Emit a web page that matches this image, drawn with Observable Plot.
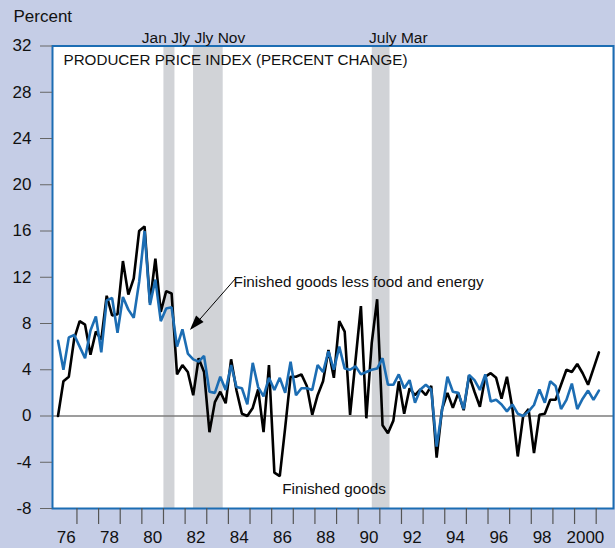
<!DOCTYPE html>
<html>
<head>
<meta charset="utf-8">
<script src="https://cdn.jsdelivr.net/npm/d3@7"></script>
<script src="https://cdn.jsdelivr.net/npm/@observablehq/plot@0.6"></script>
<style>
  html, body { margin: 0; padding: 0; background: #c5cde6; }
  #chart { width: 615px; height: 548px; }
</style>
</head>
<body>
<div id="chart"></div>
<script>
// Quarterly data, 1976 Q1 .. 2001 Q1 (annualized percent change)
const firstYear = 1976;
const finishedGoods = [
  0.0, 3.0, 3.4, 6.7, 8.2, 7.9, 5.3, 7.3, 6.6, 10.4,
  8.7, 8.8, 13.4, 10.5, 11.9, 16.0, 16.4, 9.8, 13.6, 9.0,
  10.8, 10.6, 3.6, 4.4, 3.8, 1.8, 5.0, 3.8, -1.4, 1.2,
  2.1, 1.1, 4.9, 2.2, 0.2, 0.0, 0.7, 2.3, -1.4, 4.4,
  -4.9, -5.2, -1.0, 3.4, 3.4, 3.6, 2.6, 0.1, 1.8, 3.0,
  5.7, 3.3, 8.2, 7.3, 0.1, 4.8, 9.5, -0.2, 6.3, 10.1,
  -0.8, -1.5, -0.4, 3.0, 0.2, 2.4, 1.8, 2.3, 1.8, 2.6,
  -3.6, 0.6, 2.0, 0.7, 2.0, 0.5, 3.5, 2.1, 0.8, 3.4,
  3.7, 3.3, 1.5, 3.4, 0.7, -3.5, 0.0, 0.6, -3.2, 0.1,
  0.2, 1.4, 1.4, 2.7, 4.0, 3.8, 4.5, 3.7, 2.7, 4.1,
  5.5
];
const lessFoodEnergy = [
  6.5, 4.0, 6.8, 7.0, 6.0, 5.0, 7.4, 8.6, 5.5, 10.0,
  10.2, 7.2, 10.3, 9.2, 8.5, 11.6, 16.0, 9.6, 11.8, 8.2,
  9.3, 9.4, 6.0, 7.5, 5.4, 4.9, 4.7, 5.2, 2.1, 2.0,
  3.4, 2.25, 4.4, 2.5, 2.4, 1.0, 4.6, 2.5, 1.7, 3.3,
  2.25, 3.3, 2.0, 4.7, 1.8, 2.4, 2.4, 2.25, 4.4, 3.8,
  5.6, 4.0, 6.0, 4.1, 4.0, 4.3, 3.6, 3.8, 4.0, 4.1,
  5.0, 2.7, 2.7, 3.6, 2.4, 3.1, 1.15, 2.3, 2.7, 2.3,
  -2.65, 0.5, 3.4, 2.1, 2.0, 0.6, 3.55, 3.1, 2.25, 3.6,
  1.25, 1.4, 1.0, 0.4, 1.0, 0.2, 0.0, 0.4, 0.95, 2.3,
  1.15, 3.0, 2.6, 0.6, 1.4, 2.8, 0.6, 1.5, 2.2, 1.4,
  2.2
];
// Shaded periods as they appear on the chart (decimal years)
const shadeStart = [1981.02, 1982.39, 1990.65];
const shadeEnd   = [1981.53, 1983.76, 1991.47];
const shadeLabelDates = [1980.0, 1990.5];
const shadeLabels = ["Jan Jly Jly Nov", "July Mar"];
const yTicks = [-8, -4, 0, 4, 8, 12, 16, 20, 24, 28, 32];
const yearTicks = d3.range(1977, 2002);
const labelYears = [1976, 1978, 1980, 1982, 1984, 1986, 1988, 1990, 1992, 1994, 1996, 1998, 2000];
const labelTexts = ["76", "78", "80", "82", "84", "86", "88", "90", "92", "94", "96", "98", "2000"];

const quarterDate = i => firstYear + (i + 0.5) / 4;
const black = finishedGoods.map((v, i) => ({date: quarterDate(i), value: v}));
const blue = lessFoodEnergy.map((v, i) => ({date: quarterDate(i), value: v}));
const shades = shadeStart.map((s, i) => ({start: s, end: shadeEnd[i]}));
const shadeText = shadeLabels.map((t, i) => ({date: shadeLabelDates[i], text: t}));
const labelPos = labelYears.map(y => y + 0.5);
const labelMap = new Map(labelPos.map((p, i) => [p, labelTexts[i]]));

const arrowHead = {
  draw(context) {
    context.moveTo(0, 0);
    context.lineTo(-5, 15);
    context.lineTo(5, 15);
    context.closePath();
  }
};

const FONT = "'Liberation Sans', Arial, Helvetica, sans-serif";
const BLUE = "#1c6db3";

const chart = Plot.plot({
  width: 615,
  height: 548,
  marginLeft: 52,
  marginRight: 2,
  marginTop: 45.5,
  marginBottom: 40,
  style: {fontFamily: FONT, fontSize: "17px", background: "#c5cde6", color: "#111"},
  x: {domain: [1975.87, 2001.8]},
  y: {domain: [-8, 32]},
  marks: [
    Plot.frame({fill: "white"}),
    Plot.rect(shades, {x1: "start", x2: "end", y1: -8, y2: 32, fill: "#d1d3d7"}),
    Plot.ruleY([0], {stroke: "#7d7d7d", strokeWidth: 1.5}),
    Plot.lineY(black, {x: "date", y: "value", stroke: "#000", strokeWidth: 2.6, strokeLinejoin: "miter"}),
    Plot.lineY(blue, {x: "date", y: "value", stroke: BLUE, strokeWidth: 2.6, strokeLinejoin: "miter"}),
    Plot.frame({stroke: BLUE, strokeWidth: 2}),
    Plot.axisY({ticks: yTicks, tickSize: 12, tickPadding: 9, tickFormat: d => String(d), fontSize: 17, stroke: "#666", label: null}),
    Plot.axisX({ticks: yearTicks, tickSize: 16, tickFormat: () => "", stroke: "#555", strokeWidth: 1.2, label: null}),
    Plot.axisX({ticks: labelPos, tickSize: 0, tickPadding: 22, tickFormat: d => labelMap.get(d), fontSize: 17, label: null}),
    Plot.text(["Percent"], {frameAnchor: "top-left", dx: -39, dy: -24, textAnchor: "start", lineAnchor: "bottom", fontSize: 17}),
    Plot.text(["PRODUCER PRICE INDEX (PERCENT CHANGE)"], {frameAnchor: "top-left", dx: 11, dy: 8, textAnchor: "start", lineAnchor: "top", fontSize: 15.2}),
    Plot.text(shadeText, {x: "date", y: 32, text: "text", textAnchor: "start", lineAnchor: "bottom", dy: -3, fontSize: 15.5}),
    Plot.text(["Finished goods less food and energy"], {x: 1984.24, y: 11.55, textAnchor: "start", lineAnchor: "middle", fontSize: 15.3}),
    Plot.text(["Finished goods"], {x: 1986.49, y: -6.36, textAnchor: "start", lineAnchor: "middle", fontSize: 15.3}),
    Plot.link([{x1: 1984.33, y1: 11.89, x2: 1982.3, y2: 7.55}], {x1: "x1", y1: "y1", x2: "x2", y2: "y2", stroke: "#000", strokeWidth: 1}),
    Plot.dot([{x: 1982.22, y: 7.44}], {x: "x", y: "y", symbol: arrowHead, rotate: 221.5, fill: "#000", stroke: "none"})
  ]
});
document.getElementById("chart").append(chart);
</script>
</body>
</html>
